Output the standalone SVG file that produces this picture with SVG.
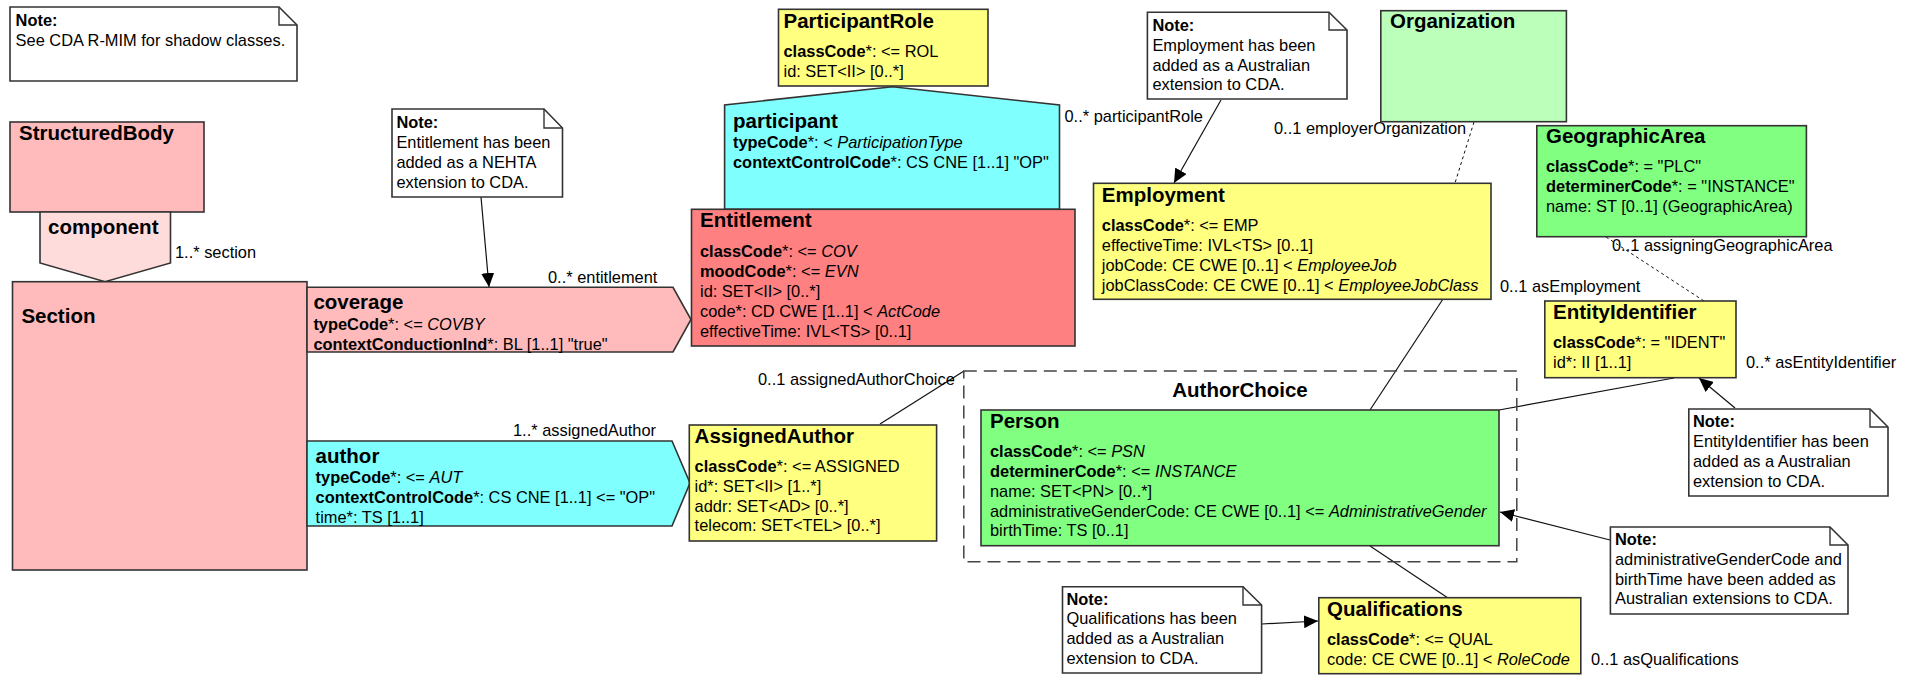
<svg xmlns="http://www.w3.org/2000/svg" width="1907" height="675" viewBox="0 0 1907 675">
<style>
.t{font-family:"Liberation Sans",Arial,sans-serif;font-size:20.5px;font-weight:bold;fill:#000}
.a{font-family:"Liberation Sans",Arial,sans-serif;font-size:16.4px;fill:#000}
.b{font-weight:bold}
.i{font-style:italic}
.box{stroke:#333;stroke-width:1.6}
.note{fill:#fff;stroke:#333;stroke-width:1.6}
.fold{fill:none;stroke:#333;stroke-width:1.4}
.ln{stroke:#111;stroke-width:1.2;fill:none}
.dsh{stroke-dasharray:3 3;stroke-width:1}
.pink{fill:#FFBBBB}
.lpink{fill:#FFDCDC}
.red{fill:#FF8080}
.cyan{fill:#80FFFF}
.yel{fill:#FFFF80}
.lgreen{fill:#BBFFBB}
.green{fill:#80FF80}
</style>
<defs>
<marker id="arr" markerUnits="userSpaceOnUse" markerWidth="15" markerHeight="13" refX="14" refY="6.5" orient="auto">
<path d="M0,0 L14,6.5 L0,13 Z" fill="#000"/>
</marker>
</defs>

<g id="connectors">
<line class="ln" x1="481" y1="197" x2="489" y2="287" marker-end="url(#arr)"/>
<line class="ln" x1="1221" y1="100" x2="1174" y2="183" marker-end="url(#arr)"/>
<line class="ln dsh" x1="1474" y1="122" x2="1455" y2="183"/>
<line class="ln dsh" x1="1606" y1="237" x2="1704" y2="301"/>
<line class="ln" x1="1443" y1="299" x2="1370" y2="410"/>
<line class="ln" x1="880" y1="424" x2="964" y2="371"/>
<line class="ln" x1="1499" y1="410" x2="1674" y2="378"/>
<line class="ln" x1="1370" y1="546" x2="1448" y2="598"/>
<line class="ln" x1="1735" y1="408" x2="1699" y2="378" marker-end="url(#arr)"/>
<line class="ln" x1="1610" y1="540" x2="1500" y2="512" marker-end="url(#arr)"/>
<line class="ln" x1="1262" y1="624" x2="1318" y2="621" marker-end="url(#arr)"/>
<text class="a" x="175" y="258">1..* section</text>
<text class="a" x="548" y="283">0..* entitlement</text>
<text class="a" x="1064.5" y="122">0..* participantRole</text>
<text class="a" x="1274" y="134">0..1 employerOrganization</text>
<text class="a" x="1500" y="292">0..1 asEmployment</text>
<text class="a" x="1612" y="251">0..1 assigningGeographicArea</text>
<text class="a" x="1746" y="368">0..* asEntityIdentifier</text>
<text class="a" x="758" y="385">0..1 assignedAuthorChoice</text>
<text class="a" x="513" y="436">1..* assignedAuthor</text>
<text class="a" x="1591" y="665">0..1 asQualifications</text>
</g>

<g id="note-shadow">
<path class="note" d="M10,7 H279 L297,25 V81 H10 Z"/>
<path class="fold" d="M279,7 V25 H297"/>
<text class="a" x="15.6" y="26"><tspan class="b">Note:</tspan><tspan x="15.6" y="45.7">See CDA R-MIM for shadow classes.</tspan></text>
</g>

<g id="StructuredBody">
<rect class="box pink" x="10" y="122" width="194" height="90"/>
<text class="t" x="19" y="140">StructuredBody</text>
</g>

<g id="component">
<polygon class="box lpink" points="40,212 170.5,212 170.5,263 105,281.7 40,263"/>
<text class="t" x="48" y="234">component</text>
</g>

<g id="Section">
<rect class="box pink" x="12.5" y="281.7" width="294.5" height="288.3"/>
<text class="t" x="21.4" y="322.7">Section</text>
</g>

<g id="coverage">
<polygon class="box pink" points="307,287.3 673,287.3 691,319.5 673,352 307,352"/>
<text class="t" x="313.4" y="309">coverage</text>
<text class="a" x="313.4" y="330"><tspan class="b">typeCode</tspan>*: &lt;= <tspan class="i">COVBY</tspan></text>
<text class="a" x="313.4" y="350"><tspan class="b">contextConductionInd</tspan>*: BL [1..1] "true"</text>
</g>

<g id="note-entitlement">
<path class="note" d="M392,109 H544 L562.5,128 V197 H392 Z"/>
<path class="fold" d="M544,109 V128 H562.5"/>
<text class="a" x="396.4" y="128"><tspan class="b">Note:</tspan><tspan x="396.4" y="148">Entitlement has been</tspan><tspan x="396.4" y="168">added as a NEHTA</tspan><tspan x="396.4" y="188">extension to CDA.</tspan></text>
</g>

<g id="ParticipantRole">
<rect class="box yel" x="778.5" y="9.3" width="209.5" height="76.7"/>
<text class="t" x="783.5" y="28">ParticipantRole</text>
<text class="a" x="783.5" y="57"><tspan class="b">classCode</tspan>*: &lt;= ROL</text>
<text class="a" x="783.5" y="77">id: SET&lt;II&gt; [0..*]</text>
</g>

<g id="participant">
<polygon class="box cyan" points="724.6,209.3 724.6,105 892.5,86.7 1059.5,105 1059.5,209.3"/>
<text class="t" x="733" y="127.7">participant</text>
<text class="a" x="733" y="148"><tspan class="b">typeCode</tspan>*: &lt; <tspan class="i">ParticipationType</tspan></text>
<text class="a" x="733" y="168"><tspan class="b">contextControlCode</tspan>*: CS CNE [1..1] "OP"</text>
</g>

<g id="Entitlement">
<rect class="box red" x="691.5" y="209.3" width="383.5" height="136.7"/>
<text class="t" x="700" y="227">Entitlement</text>
<text class="a" x="700" y="257"><tspan class="b">classCode</tspan>*: &lt;= <tspan class="i">COV</tspan></text>
<text class="a" x="700" y="277"><tspan class="b">moodCode</tspan>*: &lt;= <tspan class="i">EVN</tspan></text>
<text class="a" x="700" y="297">id: SET&lt;II&gt; [0..*]</text>
<text class="a" x="700" y="317">code*: CD CWE [1..1] &lt; <tspan class="i">ActCode</tspan></text>
<text class="a" x="700" y="337">effectiveTime: IVL&lt;TS&gt; [0..1]</text>
</g>

<g id="note-employment">
<path class="note" d="M1147.4,12.3 H1329 L1347,30 V99 H1147.4 Z"/>
<path class="fold" d="M1329,12.3 V30 H1347"/>
<text class="a" x="1152.4" y="30.7"><tspan class="b">Note:</tspan><tspan x="1152.4" y="50.7">Employment has been</tspan><tspan x="1152.4" y="70.5">added as a Australian</tspan><tspan x="1152.4" y="90">extension to CDA.</tspan></text>
</g>

<g id="Organization">
<rect class="box lgreen" x="1380.8" y="10.7" width="185.6" height="111"/>
<text class="t" x="1390" y="28.3">Organization</text>
</g>

<g id="Employment">
<rect class="box yel" x="1093.5" y="183.3" width="397.5" height="116"/>
<text class="t" x="1101.8" y="201.7">Employment</text>
<text class="a" x="1101.8" y="230.7"><tspan class="b">classCode</tspan>*: &lt;= EMP</text>
<text class="a" x="1101.8" y="250.7">effectiveTime: IVL&lt;TS&gt; [0..1]</text>
<text class="a" x="1101.8" y="270.7">jobCode: CE CWE [0..1] &lt; <tspan class="i">EmployeeJob</tspan></text>
<text class="a" x="1101.8" y="290.7">jobClassCode: CE CWE [0..1] &lt; <tspan class="i">EmployeeJobClass</tspan></text>
</g>

<g id="GeographicArea">
<rect class="box green" x="1536.8" y="125.7" width="269.6" height="111"/>
<text class="t" x="1546" y="143.3">GeographicArea</text>
<text class="a" x="1546" y="172.3"><tspan class="b">classCode</tspan>*: = "PLC"</text>
<text class="a" x="1546" y="192.3"><tspan class="b">determinerCode</tspan>*: = "INSTANCE"</text>
<text class="a" x="1546" y="212.3">name: ST [0..1] (GeographicArea)</text>
</g>

<g id="EntityIdentifier">
<rect class="box yel" x="1544.8" y="301" width="191.2" height="76.7"/>
<text class="t" x="1553" y="319">EntityIdentifier</text>
<text class="a" x="1553" y="348.3"><tspan class="b">classCode</tspan>*: = "IDENT"</text>
<text class="a" x="1553" y="368.3">id*: II [1..1]</text>
</g>

<g id="note-entityidentifier">
<path class="note" d="M1688.8,409 H1870 L1888,427 V496 H1688.8 Z"/>
<path class="fold" d="M1870,409 V427 H1888"/>
<text class="a" x="1693" y="427.3"><tspan class="b">Note:</tspan><tspan x="1693" y="447.3">EntityIdentifier has been</tspan><tspan x="1693" y="467.3">added as a Australian</tspan><tspan x="1693" y="486.7">extension to CDA.</tspan></text>
</g>

<g id="author">
<polygon class="box cyan" points="307,441 672,441 690,483 672,526 307,526"/>
<text class="t" x="315.6" y="463">author</text>
<text class="a" x="315.6" y="483"><tspan class="b">typeCode</tspan>*: &lt;= <tspan class="i">AUT</tspan></text>
<text class="a" x="315.6" y="503"><tspan class="b">contextControlCode</tspan>*: CS CNE [1..1] &lt;= "OP"</text>
<text class="a" x="315.6" y="522.7">time*: TS [1..1]</text>
</g>

<g id="AssignedAuthor">
<rect class="box yel" x="689.3" y="425" width="247.3" height="116"/>
<text class="t" x="694.6" y="442.7">AssignedAuthor</text>
<text class="a" x="694.6" y="471.7"><tspan class="b">classCode</tspan>*: &lt;= ASSIGNED</text>
<text class="a" x="694.6" y="491.7">id*: SET&lt;II&gt; [1..*]</text>
<text class="a" x="694.6" y="511.7">addr: SET&lt;AD&gt; [0..*]</text>
<text class="a" x="694.6" y="531.3">telecom: SET&lt;TEL&gt; [0..*]</text>
</g>

<g id="AuthorChoice">
<rect x="963.8" y="371" width="553" height="190.7" fill="none" stroke="#444" stroke-width="1.5" stroke-dasharray="13 7"/>
<text class="t" x="1240" y="396.7" text-anchor="middle">AuthorChoice</text>
</g>

<g id="Person">
<rect class="box green" x="981" y="410" width="518" height="135.7"/>
<text class="t" x="990" y="427.7">Person</text>
<text class="a" x="990" y="456.7"><tspan class="b">classCode</tspan>*: &lt;= <tspan class="i">PSN</tspan></text>
<text class="a" x="990" y="476.7"><tspan class="b">determinerCode</tspan>*: &lt;= <tspan class="i">INSTANCE</tspan></text>
<text class="a" x="990" y="496.7">name: SET&lt;PN&gt; [0..*]</text>
<text class="a" x="990" y="516.7">administrativeGenderCode: CE CWE [0..1] &lt;= <tspan class="i">AdministrativeGender</tspan></text>
<text class="a" x="990" y="536.3">birthTime: TS [0..1]</text>
</g>

<g id="note-gender">
<path class="note" d="M1610.4,527 H1830 L1848,545 V614 H1610.4 Z"/>
<path class="fold" d="M1830,527 V545 H1848"/>
<text class="a" x="1615" y="545"><tspan class="b">Note:</tspan><tspan x="1615" y="565">administrativeGenderCode and</tspan><tspan x="1615" y="585">birthTime have been added as</tspan><tspan x="1615" y="604.3">Australian extensions to CDA.</tspan></text>
</g>

<g id="note-qualifications">
<path class="note" d="M1062.5,586.7 H1243 L1261.6,605 V673 H1062.5 Z"/>
<path class="fold" d="M1243,586.7 V605 H1261.6"/>
<text class="a" x="1066.5" y="605"><tspan class="b">Note:</tspan><tspan x="1066.5" y="624.3">Qualifications has been</tspan><tspan x="1066.5" y="644.3">added as a Australian</tspan><tspan x="1066.5" y="664">extension to CDA.</tspan></text>
</g>

<g id="Qualifications">
<rect class="box yel" x="1318.8" y="597.7" width="262" height="76"/>
<text class="t" x="1327" y="616">Qualifications</text>
<text class="a" x="1327" y="645"><tspan class="b">classCode</tspan>*: &lt;= QUAL</text>
<text class="a" x="1327" y="665">code: CE CWE [0..1] &lt; <tspan class="i">RoleCode</tspan></text>
</g>
</svg>
